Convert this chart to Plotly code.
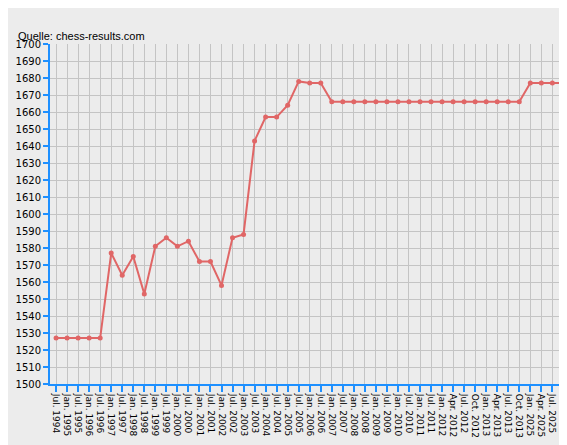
import plotly.graph_objects as go

labels = ["Jul. 1994","Jan. 1995","Jul. 1995","Jan. 1996","Jul. 1996","Jan. 1997","Jul. 1997","Jan. 1998","Jul. 1998","Jan. 1999","Jul. 1999","Jan. 2000","Jul. 2000","Jan. 2001","Jul. 2001","Jan. 2002","Jul. 2002","Jan. 2003","Jul. 2003","Jan. 2004","Jul. 2004","Jan. 2005","Jul. 2005","Jan. 2006","Jul. 2006","Jan. 2007","Jul. 2007","Jan. 2008","Jul. 2008","Jan. 2009","Jul. 2009","Jan. 2010","Jul. 2010","Jan. 2011","Jul. 2011","Jan. 2012","Apr. 2012","Jul. 2012","Oct. 2012","Jan. 2013","Apr. 2013","Jul. 2013","Oct. 2013","Jan. 2025","Apr. 2025","Jul. 2025","Oct. 2025"]
elo = [1527,1527,1527,1527,1527,1577,1564,1575,1553,1581,1586,1581,1584,1572,1572,1558,1586,1588,1643,1657,1657,1664,1678,1677,1677,1666,1666,1666,1666,1666,1666,1666,1666,1666,1666,1666,1666,1666,1666,1666,1666,1666,1666,1677,1677,1677,1677]

fig = go.Figure(go.Scatter(x=list(range(len(labels))), y=elo, mode="lines+markers",
    line=dict(color="#e06666", width=2), marker=dict(color="#e06666", size=5)))
fig.update_layout(width=567, height=445, paper_bgcolor="#ececec", plot_bgcolor="#ececec",
    margin=dict(l=42, r=5, t=36, b=69), showlegend=False,
    font=dict(family="DejaVu Sans", size=10, color="black"))
fig.add_annotation(text="<b>AUT-Elozahlen von Alexander Seidl, ID:113526</b>", xref="paper", yref="paper",
    x=-0.065, y=1.098, xanchor="left", yanchor="bottom", showarrow=False, font=dict(size=13, family="Liberation Sans"))
fig.add_annotation(text="Quelle: chess-results.com", xref="paper", yref="paper",
    x=-0.065, y=1.0, xanchor="left", yanchor="bottom", showarrow=False, font=dict(size=11, family="Liberation Sans"))
fig.update_xaxes(tickvals=list(range(len(labels))), ticktext=labels, tickangle=90, range=[-0.55, 46.6],
    showgrid=True, gridcolor="#c4c4c4", showline=True, linecolor="#1e90ff", linewidth=2,
    ticks="outside", tickcolor="#1e90ff", ticklen=6, tickwidth=2, zeroline=False, tickfont=dict(size=9))
fig.update_yaxes(range=[1500, 1700], dtick=10, showgrid=True, gridcolor="#c4c4c4", showline=True,
    linecolor="#1e90ff", linewidth=2, ticks="outside", tickcolor="#1e90ff", ticklen=5, tickwidth=2,
    zeroline=False, tickfont=dict(size=10))
fig.write_html("out.html")
